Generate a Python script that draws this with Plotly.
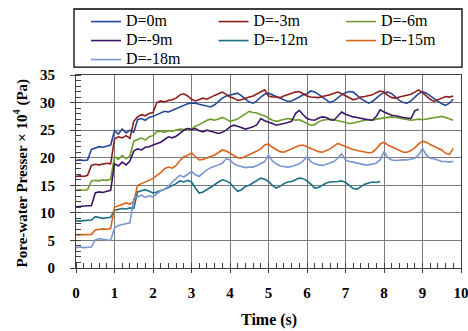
import plotly.graph_objects as go

TIME = [0.0, 0.1, 0.2, 0.3, 0.4, 0.5, 0.6, 0.7, 0.8, 0.9,
        1.0, 1.1, 1.2, 1.3, 1.4, 1.5, 1.6, 1.7, 1.8, 1.9,
        2.0, 2.1, 2.2, 2.3, 2.4, 2.5, 2.6, 2.7, 2.8, 2.9,
        3.0, 3.1, 3.2, 3.3, 3.4, 3.5, 3.6, 3.7, 3.8, 3.9,
        4.0, 4.1, 4.2, 4.3, 4.4, 4.5, 4.6, 4.7, 4.8, 4.9,
        5.0, 5.1, 5.2, 5.3, 5.4, 5.5, 5.6, 5.7, 5.8, 5.9,
        6.0, 6.1, 6.2, 6.3, 6.4, 6.5, 6.6, 6.7, 6.8, 6.9,
        7.0, 7.1, 7.2, 7.3, 7.4, 7.5, 7.6, 7.7, 7.8, 7.9,
        8.0, 8.1, 8.2, 8.3, 8.4, 8.5, 8.6, 8.7, 8.8, 8.9,
        9.0, 9.1, 9.2, 9.3, 9.4, 9.5, 9.6, 9.7, 9.8]

D0 = [19.5, 19.6, 19.5, 19.6, 21.5, 21.8, 22.0, 21.9, 22.1, 22.3,
      24.9, 24.3, 25.2, 24.5, 25.0, 24.6, 26.9, 27.1, 26.8, 27.3,
      27.5, 27.8, 28.2, 28.4, 28.3, 28.6, 29.0, 29.3, 29.5, 29.8,
      29.9, 29.9, 29.7, 29.5, 29.3, 29.2, 29.6, 30.2, 30.8, 31.2,
      31.4, 31.6, 31.7, 31.2, 30.6, 30.1, 29.9, 30.3, 31.0, 31.5,
      31.7, 31.4, 31.1, 30.8, 30.4, 30.2, 30.3, 30.6, 31.0, 31.4,
      31.6, 32.1, 31.9, 31.5, 31.0, 30.4, 30.0, 30.3, 30.9, 31.4,
      31.8, 32.0, 31.9, 31.3, 30.7, 30.3, 29.9, 30.2, 30.8, 31.4,
      31.8, 31.9, 31.6, 31.0, 30.4, 30.0, 29.9, 30.3, 30.9, 31.6,
      32.0, 31.7, 31.2, 30.7, 30.2, 29.8, 29.5, 29.9, 30.6]

D3 = [16.6, 16.7, 16.6, 16.8, 18.6, 18.8, 18.7, 18.9, 19.0, 18.9,
      23.4, 23.8, 23.6, 24.0, 23.5, 26.6, 27.4, 27.8, 27.6, 28.0,
      28.2, 30.0, 30.3, 30.1, 30.4, 30.5, 30.8, 31.4, 31.6, 31.2,
      30.6, 30.3, 30.5, 30.8, 30.6, 31.0, 31.3, 31.6, 31.9, 31.5,
      31.0, 30.8, 30.4, 30.5, 30.8, 31.0, 31.2, 31.6, 32.0, 32.3,
      31.2, 31.0, 31.0, 30.9, 31.2, 31.5, 31.7, 31.9, 32.0, 31.6,
      31.2, 31.0, 31.0, 30.9, 31.1, 31.2, 31.4, 31.7, 31.9, 31.6,
      31.2, 30.8, 30.5, 30.7, 31.0, 31.1, 31.3, 31.4, 31.8, 32.1,
      31.9, 31.3, 30.9, 30.8, 31.0, 31.2, 31.3, 31.5, 31.9, 32.3,
      31.8, 31.2, 30.6, 30.2, 30.5, 30.9, 31.1, 31.0, 31.2]

D6 = [14.1, 14.2, 14.1, 14.2, 15.8, 15.9, 15.8, 16.0, 15.9, 16.1,
      20.2, 19.7, 20.4, 19.8, 20.3, 23.0, 23.3, 23.6, 23.2, 23.8,
      24.0, 24.7, 24.8, 24.6, 24.9, 24.8, 25.0, 25.2, 25.1, 25.3,
      25.2, 25.7, 26.0, 26.4, 26.8, 27.0, 26.8, 27.0, 27.3, 27.0,
      26.6, 26.8, 27.0, 27.5, 28.0, 28.4, 28.2, 28.1, 27.8, 27.6,
      27.2, 26.8, 26.6, 26.8, 27.0, 27.1, 27.0, 26.8, 26.9, 26.6,
      26.2, 25.9, 26.0, 26.5, 26.8, 26.9, 27.0, 26.9, 26.7, 26.6,
      26.4, 26.2, 26.3, 26.5, 26.6, 26.8, 26.9, 26.8, 27.0, 27.1,
      27.2, 27.3, 27.4, 27.3, 27.2, 27.0, 26.9, 26.8, 26.9, 27.0,
      26.9, 27.0, 27.1, 27.2, 27.4, 27.5, 27.3, 27.0, 26.8]

D9 = [11.1, 11.2, 11.2, 11.3, 11.3, 13.6, 13.8, 13.7, 13.9, 14.1,
      18.9, 18.5, 19.2, 18.7, 19.4, 21.2, 21.6, 21.4, 21.9, 22.0,
      22.3, 22.6, 22.8, 23.3, 23.8, 23.6, 23.9, 24.4, 25.0, 25.3,
      25.1, 25.3, 24.9, 24.7, 25.0, 24.8, 24.6, 24.4, 24.6, 25.0,
      25.6, 25.9, 25.7, 25.4, 25.2, 25.4, 25.6, 26.0, 27.1, 26.7,
      26.5, 26.2, 25.9, 26.0, 26.2, 26.4, 26.6, 28.0, 28.6, 27.8,
      27.1, 26.9, 26.8, 27.2, 27.4, 27.3, 26.9, 26.8, 27.5, 28.3,
      27.9, 27.6, 27.4, 27.3, 27.1, 27.0, 26.9, 26.8, 27.5, 28.7,
      28.3, 28.0, 27.7, 27.6, 27.4, 27.3, 27.2, 27.1, 28.5, 28.8,
      None, None, None, None, None, None, None, None, None]

D12 = [8.6, 8.5, 8.6, 8.6, 8.7, 9.3, 9.1, 9.0, 9.1, 9.2,
       10.5, 10.6, 10.8, 10.7, 10.9, 10.8, 13.8, 14.0, 14.2, 13.9,
       13.6, 13.8, 14.0, 14.3, 14.6, 14.9, 15.3, 15.8, 15.6, 15.9,
       15.6, 14.5, 13.6, 13.8, 14.2, 14.7, 15.1, 15.6, 16.0, 15.8,
       15.4, 14.6, 13.9, 14.2, 14.8, 15.0, 15.4, 15.9, 16.3, 16.1,
       15.7, 15.0, 14.5, 14.8, 15.3, 15.6, 15.7, 16.0, 16.3, 16.2,
       15.8, 15.2, 14.5, 14.6, 15.0, 15.4, 15.6, 15.6, 15.7, 15.8,
       15.5, 15.0, 14.4, 14.3, 14.7, 15.2, 15.4, 15.6, 15.5, 15.7,
       None, None, None, None, None, None, None, None, None, None,
       None, None, None, None, None, None, None, None, None]

D15 = [6.0, 6.0, 6.1, 6.0, 6.1, 6.9, 7.0, 7.1, 7.0, 7.2,
       11.0, 11.3, 11.5, 11.8, 11.6, 12.0, 15.0, 15.3, 15.6, 15.9,
       16.2, 16.8, 17.3, 18.0, 18.3, 18.1, 18.6, 19.5, 20.2, 20.4,
       20.9, 20.2, 19.6, 19.7, 19.9, 20.2, 20.5, 20.9, 21.4, 21.2,
       20.8, 20.4, 20.0, 19.9, 20.2, 20.6, 20.9, 21.2, 21.6, 22.3,
       22.5, 21.9, 21.5, 21.1, 21.0, 21.3, 21.5, 21.9, 22.2, 22.3,
       22.0, 21.7, 21.3, 21.1, 21.0, 21.3, 21.6, 22.1, 22.6, 22.3,
       22.0, 21.8, 21.5, 21.3, 21.2, 21.0, 20.9, 21.0, 21.6, 22.5,
       22.8, 22.3, 22.0, 21.7, 21.4, 21.0, 21.0, 21.3, 21.8, 22.5,
       23.0, 22.8, 22.4, 22.0, 21.7, 21.4, 20.8, 20.6, 21.7]

D18 = [3.7, 3.8, 3.7, 3.8, 3.8, 5.1, 5.3, 5.2, 5.1, 5.0,
       7.3, 7.7, 7.9, 8.0, 8.2, 12.6, 12.9, 13.2, 12.8, 13.1,
       12.9, 13.5, 14.0, 14.3, 14.8, 15.6, 16.2, 16.8, 16.5, 17.0,
       17.5, 16.9, 16.6, 17.2, 17.8, 18.2, 18.4, 18.7, 19.0, 19.8,
       19.6, 18.9, 18.6, 18.4, 18.2, 18.3, 18.3, 18.6, 19.0, 19.3,
       20.5, 19.4, 18.9, 18.5, 18.4, 18.3, 18.4, 18.6, 18.9, 19.4,
       20.2, 19.3, 18.9, 18.7, 18.6, 18.8, 19.0, 19.3, 19.9, 20.7,
       19.6, 19.3, 19.2, 19.0, 18.8, 18.7, 18.7, 18.8, 19.0, 19.6,
       21.1, 20.0, 19.6, 19.5, 19.6, 19.6, 19.6, 19.7, 19.9, 20.5,
       21.7, 20.5, 19.9, 19.8, 19.5, 19.3, 19.3, 19.2, 19.3]

NAMES = ["D=0m", "D=-3m", "D=-6m", "D=-9m", "D=-12m", "D=-15m", "D=-18m"]
SERIES = [D0, D3, D6, D9, D12, D15, D18]
COLORS = ["#26479a", "#8e1d1d", "#6d9c2c", "#3b1866", "#1a6e85", "#dc631a", "#7a96cf"]

X_TICKS = [0, 1, 2, 3, 4, 5, 6, 7, 8, 9, 10]
Y_TICKS = [0, 5, 10, 15, 20, 25, 30, 35]

FONT = "Liberation Serif"

fig = go.Figure()
for name, vals, col in zip(NAMES, SERIES, COLORS):
    fig.add_trace(go.Scatter(x=TIME, y=vals, mode="lines",
                             name=f'<span style="font-size:16px">{name}</span>',
                             line=dict(color=col, width=1.6)))

fig.update_layout(
    width=468, height=331,
    margin=dict(l=76, r=7, t=75, b=63, autoexpand=False),
    plot_bgcolor="white", paper_bgcolor="white",
    font=dict(family=FONT, size=14, color="black"),
    showlegend=True,
    legend=dict(orientation="h", x=0.026, xanchor="left", y=1.352, yanchor="top",
                entrywidth=82.5, entrywidthmode="pixels",
                borderwidth=0, bgcolor="rgba(0,0,0,0)",
                font=dict(family=FONT, size=12, color="black"),
                itemwidth=30, tracegroupgap=0),
    shapes=[dict(type="rect", xref="paper", yref="paper",
                 x0=-0.0052, x1=1.0026, y0=1.041, y1=1.342,
                 line=dict(color="black", width=1.3), fillcolor="rgba(0,0,0,0)", layer="below")],
)

fig.update_xaxes(range=[0, 10], tickvals=X_TICKS, ticktext=[f"<b>{v}</b>" for v in X_TICKS],
                 showgrid=True, gridcolor="#7a7a7a", gridwidth=1.2,
                 showline=True, linecolor="#404040", linewidth=1.2, mirror=True,
                 ticks="outside", ticklen=4, tickcolor="#404040",
                 minor=dict(dtick=0.2, ticks="inside", ticklen=5, tickcolor="#404040", showgrid=False),
                 zeroline=False, ticklabelstandoff=7, ticklabeloverflow="allow",
                 tickfont=dict(family=FONT, size=15))
fig.update_yaxes(range=[0, 35], tickvals=Y_TICKS, ticktext=[f"<b>{v}</b>" for v in Y_TICKS],
                 showgrid=True, gridcolor="#7a7a7a", gridwidth=1.2,
                 showline=True, linecolor="#404040", linewidth=1.2, mirror=True,
                 ticks="outside", ticklen=5, tickcolor="#404040",
                 minor=dict(dtick=1, ticks="inside", ticklen=5, tickcolor="#404040", showgrid=False),
                 zeroline=False, ticklabelstandoff=12, ticklabeloverflow="allow",
                 tickfont=dict(family=FONT, size=15))

fig.add_annotation(text="<b>Time (s)</b>", xref="paper", yref="paper",
                   x=0.5, y=-0.269, xanchor="center", yanchor="middle", showarrow=False,
                   font=dict(family=FONT, size=16))
fig.add_annotation(text="<b>Pore-water Presser × 10<sup>4</sup> (Pa)</b>", xref="paper", yref="paper",
                   x=-0.143, y=0.49, xanchor="center", yanchor="middle", textangle=-90, showarrow=False,
                   font=dict(family=FONT, size=15))

fig.write_html("out.html")
